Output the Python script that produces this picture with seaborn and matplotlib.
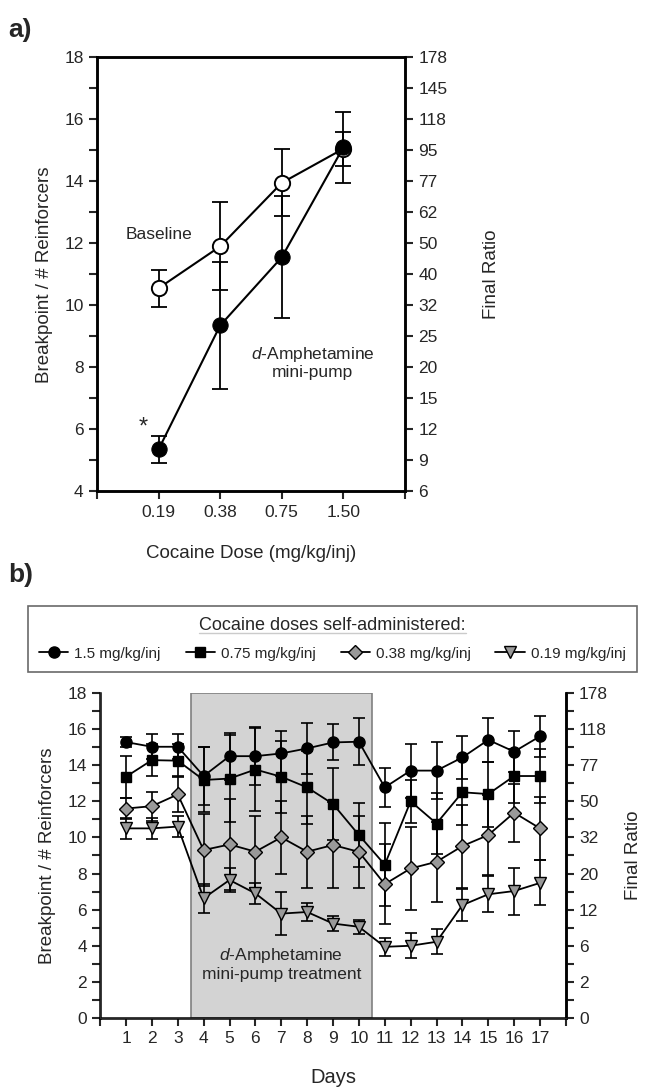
import numpy as np
import pandas as pd
import seaborn as sns
import matplotlib.pyplot as plt

sns.set_style("ticks")
plt.rcParams['font.family'] = ['Liberation Sans', 'DejaVu Sans']
plt.rcParams['mathtext.fontset'] = 'custom'
plt.rcParams['mathtext.it'] = 'Liberation Sans:italic'
plt.rcParams['mathtext.rm'] = 'Liberation Sans'

# panel a: dose-response
doses = ["0.19", "0.38", "0.75", "1.50"]
baseline = [10.55, 11.9, 13.95, 15.05]
baseline_err = [0.6, 1.42, 1.08, 0.55]
amph = [5.35, 9.35, 11.55, 15.1]
amph_err = [0.45, 2.05, 1.97, 1.15]
ratio_a = ["6", "9", "12", "15", "20", "25", "32", "40", "50", "62",
           "77", "95", "118", "145", "178"]

# panel b: daily breakpoints
days = list(range(1, 18))
bp_150 = [15.28, 15.02, 15.02, 13.4, 14.5, 14.5, 14.65, 14.93, 15.26, 15.3,
          12.77, 13.7, 13.7, 14.43, 15.4, 14.75, 15.6]
err_150 = [0.3, 0.7, 0.7, 1.6, 1.3, 1.6, 1.25, 1.4, 1.0, 1.3,
           1.1, 1.5, 1.6, 1.2, 1.2, 1.15, 1.15]
bp_075 = [13.36, 14.28, 14.25, 13.18, 13.26, 13.76, 13.36, 12.77, 11.85, 10.13,
          8.49, 12.0, 10.77, 12.5, 12.4, 13.4, 13.4]
err_075 = [1.15, 0.9, 0.9, 1.8, 2.4, 2.3, 2.0, 2.0, 2.0, 1.75,
           2.3, 1.2, 1.7, 1.8, 1.8, 1.5, 1.5]
bp_038 = [11.6, 11.73, 12.38, 9.3, 9.61, 9.21, 10.0, 9.21, 9.58, 9.2,
          7.41, 8.28, 8.65, 9.52, 10.13, 11.37, 10.5]
err_038 = [0.6, 0.8, 1.0, 2.0, 2.5, 2.0, 2.0, 2.0, 2.4, 2.0,
           2.2, 2.3, 2.2, 2.3, 2.2, 1.6, 1.75]
bp_019 = [10.5, 10.5, 10.6, 6.63, 7.64, 6.9, 5.78, 5.87, 5.23, 5.05,
          3.94, 4.0, 4.22, 6.25, 6.85, 7.03, 7.48]
err_019 = [0.6, 0.6, 0.6, 0.8, 0.65, 0.6, 1.2, 0.5, 0.4, 0.4,
           0.5, 0.7, 0.7, 0.9, 1.0, 1.3, 1.25]
ratio_b = ["0", "2", "6", "12", "20", "32", "50", "77", "118", "178"]

fig = plt.figure(figsize=(6.46, 10.87), dpi=100)

# ---------- panel a ----------
ax = fig.add_axes([0.150, 0.548, 0.477, 0.3993])
xa = np.arange(1, len(doses) + 1)
dfa = pd.DataFrame({"x": xa, "baseline": baseline, "amph": amph})

ax.errorbar(xa, baseline, yerr=baseline_err, fmt='none', ecolor='k',
            elinewidth=1.3, capsize=6, capthick=1.3, zorder=2)
ax.errorbar(xa, amph, yerr=amph_err, fmt='none', ecolor='k',
            elinewidth=1.3, capsize=6, capthick=1.3, zorder=2)
sns.lineplot(data=dfa, x="x", y="baseline", ax=ax, color='k', lw=1.5,
             marker='o', markersize=11, markerfacecolor='white',
             markeredgecolor='k', markeredgewidth=1.4, zorder=3)
sns.lineplot(data=dfa, x="x", y="amph", ax=ax, color='k', lw=1.5,
             marker='o', markersize=11, markerfacecolor='k',
             markeredgecolor='k', zorder=4)

ax.set_xlim(0, 5)
ax.set_ylim(4, 18)
ax.set_xticks(range(0, 6))
ax.set_xticklabels([""] + doses + [""])
ax.set_yticks(range(4, 19, 2))
ax.set_yticks(range(5, 18, 2), minor=True)
ax.tick_params(axis='both', labelsize=12.5, width=1.5, length=6, direction='out')
ax.tick_params(axis='y', which='minor', width=1.5, length=6)
ax.set_xlabel("Cocaine Dose (mg/kg/inj)", fontsize=13.5, labelpad=18)
ax.set_ylabel("Breakpoint / # Reinforcers", fontsize=13.5, labelpad=8)
for s in ax.spines.values():
    s.set_linewidth(1.8)
    s.set_color('k')

axr = ax.twinx()
axr.set_ylim(4, 18)
axr.set_yticks(range(4, 19))
axr.set_yticklabels(ratio_a)
axr.tick_params(axis='y', labelsize=12.5, width=1.5, length=6)
axr.set_ylabel("Final Ratio", fontsize=13.5, labelpad=26)
for s in axr.spines.values():
    s.set_linewidth(1.8)
    s.set_color('k')

ax.text(1.0, 12.3, "Baseline", fontsize=12.5, ha='center', va='center')
ax.text(0.75, 6.05, "*", fontsize=17, ha='center', va='center')
ax.text(3.5, 8.15, "$\\it{d}$-Amphetamine\nmini-pump", fontsize=12.5,
        ha='center', va='center', linespacing=1.1)
fig.text(0.012, 0.972, "a)", fontsize=19, fontweight='bold', va='center')

# ---------- panel b ----------
bx = fig.add_axes([0.155, 0.0635, 0.721, 0.299])
bx.axvspan(3.5, 10.5, ymin=0, ymax=1, facecolor='#d3d3d3',
           edgecolor='#808080', lw=1.2, zorder=0)

dfb = pd.DataFrame({"day": days, "d150": bp_150, "d075": bp_075,
                    "d038": bp_038, "d019": bp_019})
series = [
    ("d150", err_150, 'o', 'k', "1.5 mg/kg/inj", 8),
    ("d075", err_075, 's', 'k', "0.75 mg/kg/inj", 7),
    ("d038", err_038, 'D', '#999999', "0.38 mg/kg/inj", 7),
    ("d019", err_019, 'v', '#999999', "0.19 mg/kg/inj", 8),
]
handles = []
for i, (col, err, mk, fc, lab, ms) in enumerate(series):
    bx.errorbar(dfb["day"], dfb[col], yerr=err, fmt='none', ecolor='k',
                elinewidth=1.2, capsize=4.5, capthick=1.2, zorder=2)
    sns.lineplot(data=dfb, x="day", y=col, ax=bx, color='k', lw=1.3,
                 marker=mk, markersize=ms, markerfacecolor=fc,
                 markeredgecolor='k', markeredgewidth=1.0,
                 label=lab, zorder=6 - i)
    handles.append(bx.lines[-1])

bx.get_legend().remove()
bx.set_xlim(0, 18)
bx.set_ylim(0, 18)
bx.set_xticks(range(0, 19))
bx.set_xticklabels([""] + [str(d) for d in days] + [""])
bx.set_yticks(range(0, 19, 2))
bx.set_yticks(range(1, 18, 2), minor=True)
bx.tick_params(axis='both', labelsize=12.5, width=1.5, length=6, direction='out')
bx.tick_params(axis='y', which='minor', width=1.5, length=6)
bx.set_xlabel("Days", fontsize=14.5, labelpad=16)
bx.set_ylabel("Breakpoint / # Reinforcers", fontsize=13.5, labelpad=8)
bx.spines['top'].set_visible(False)
for s in ['left', 'bottom', 'right']:
    bx.spines[s].set_linewidth(1.8)
    bx.spines[s].set_color('k')

bxr = bx.twinx()
bxr.set_ylim(0, 18)
bxr.set_yticks(range(0, 19, 2))
bxr.set_yticks(range(1, 18, 2), minor=True)
bxr.set_yticklabels(ratio_b)
bxr.tick_params(axis='y', labelsize=12.5, width=1.5, length=6)
bxr.tick_params(axis='y', which='minor', width=1.5, length=6)
bxr.set_ylabel("Final Ratio", fontsize=13.5, labelpad=12)
bxr.spines['top'].set_visible(False)
bxr.spines['right'].set_linewidth(1.8)
bxr.spines['right'].set_color('k')

bx.text(7, 3.0, "$\\it{d}$-Amphetamine\nmini-pump treatment", fontsize=12.5,
        ha='center', va='center', linespacing=1.15)
fig.text(0.012, 0.471, "b)", fontsize=19, fontweight='bold', va='center')

leg = fig.legend(handles=handles, labels=[s[4] for s in series],
                 loc='lower left', bbox_to_anchor=(0.043, 0.3818, 0.943, 0.058),
                 mode='expand', ncol=4, fontsize=11, frameon=True,
                 fancybox=False, edgecolor='#444444', handlelength=1.9,
                 handletextpad=0.4, columnspacing=0.5, borderaxespad=0,
                 borderpad=0.75, title="Cocaine doses self-administered:",
                 title_fontsize=13)
leg.get_frame().set_linewidth(1.2)
leg._legend_box.sep = 9

# underline legend title
fig.canvas.draw()
tb = leg.get_title().get_window_extent().transformed(fig.transFigure.inverted())
fig.add_artist(plt.Line2D([tb.x0, tb.x1], [tb.y0 + 0.001, tb.y0 + 0.001],
                          transform=fig.transFigure, color='k', lw=1.0))

fig.savefig("out.png", dpi=100)
